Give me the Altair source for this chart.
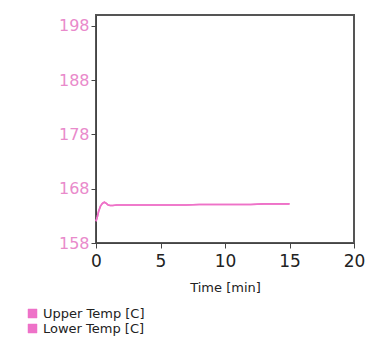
import altair as alt
import pandas as pd

series_names = ["Upper Temp [C]", "Lower Temp [C]"]
time_min = [0.0, 0.1, 0.2, 0.35, 0.5, 0.65, 0.8, 0.95, 1.1, 1.3, 1.6, 2.0, 3.0, 4.0, 5.0, 6.0, 7.0, 8.0, 9.0, 10.0, 11.0, 12.0, 13.0, 14.0, 15.0]
upper_temp = [162.0, 162.8, 163.8, 164.8, 165.3, 165.5, 165.3, 165.0, 164.9, 164.9, 165.0, 165.0, 165.0, 165.0, 165.0, 165.0, 165.0, 165.1, 165.1, 165.1, 165.1, 165.1, 165.2, 165.2, 165.2]
lower_temp = upper_temp

rows = []
for t, v in zip(time_min, upper_temp):
    rows.append({"Time": t, "Temp": v, "Series": series_names[0]})
for t, v in zip(time_min, lower_temp):
    rows.append({"Time": t, "Temp": v, "Series": series_names[1]})
df = pd.DataFrame(rows)

pink = "#ee72c8"

chart = alt.Chart(df).mark_line(strokeWidth=1.6).encode(
    x=alt.X("Time:Q", scale=alt.Scale(domain=[0, 20], nice=False),
            axis=alt.Axis(values=[0, 5, 10, 15, 20], title="Time [min]", grid=False,
                          labelFontSize=17, labelColor="#222222", titleFontSize=13,
                          titleFontWeight="normal", titleColor="#222222",
                          tickColor="#444444", domainColor="#444444", tickSize=5,
                          labelPadding=5, titlePadding=12, labelFlush=False)),
    y=alt.Y("Temp:Q", scale=alt.Scale(domain=[158, 200], nice=False, zero=False),
            axis=alt.Axis(values=[158, 168, 178, 188, 198], title=None, grid=False,
                          labelFontSize=16, labelColor="#e98acb",
                          tickColor="#444444", domainColor="#444444", tickSize=5,
                          labelPadding=2, labelFlush=False)),
    color=alt.Color("Series:N", sort=series_names,
                    scale=alt.Scale(domain=series_names, range=[pink, pink]),
                    legend=alt.Legend(title=None, orient="none", legendX=-70, legendY=292,
                                      symbolType="square", symbolSize=81,
                                      symbolFillColor=pink, symbolStrokeColor=pink,
                                      symbolStrokeWidth=0.5,
                                      labelFontSize=13, labelColor="#222222",
                                      rowPadding=1, labelOffset=4)),
).properties(
    width=258, height=228,
    autosize=alt.AutoSizeParams(type="none"),
    padding={"left": 96, "top": 15, "right": 14, "bottom": 99},
).configure(
    font="DejaVu Sans", background="white",
    view=alt.ViewConfig(stroke="#555555", strokeWidth=2)
)

chart.save("out.html", embed_options={"renderer": "svg", "actions": False})
